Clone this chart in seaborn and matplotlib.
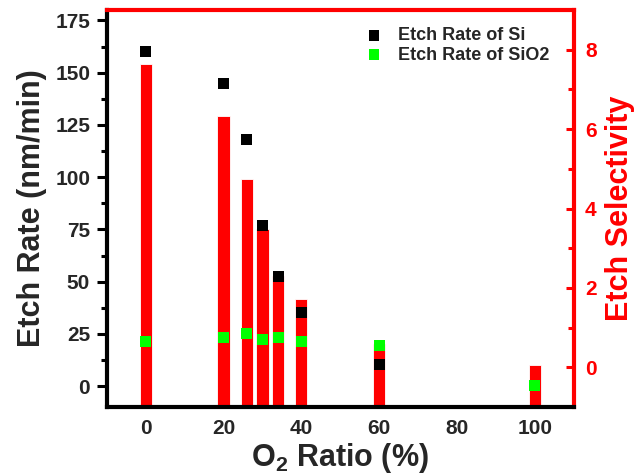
import numpy as np
import pandas as pd
import matplotlib
matplotlib.use("Agg")
import matplotlib.pyplot as plt
import seaborn as sns

# ---- data ----
o2_ratio = [0, 20, 26, 30, 34, 40, 60, 100]
etch_si = [160, 145, 118, 77, 52.4, 35.3, 10.5, 0.3]
etch_sio2 = [21.2, 23.3, 25.4, 22.1, 23.3, 21.2, 19.5, 0.3]
selectivity = [7.65, 6.32, 4.75, 3.49, 2.31, 1.71, 0.58, 0.05]
left_ticks = [0, 25, 50, 75, 100, 125, 150, 175]
right_ticks = [0, 2, 4, 6, 8]
x_ticks = [0, 20, 40, 60, 80, 100]

sns.set_style("white")
plt.rcParams["font.family"] = ["Liberation Sans", "DejaVu Sans"]
plt.rcParams["font.weight"] = "bold"
plt.rcParams["mathtext.fontset"] = "custom"
plt.rcParams["mathtext.rm"] = "Liberation Sans:bold"
plt.rcParams["mathtext.bf"] = "Liberation Sans:bold"
plt.rcParams["mathtext.it"] = "Liberation Sans:bold"

RED = "#ff0000"
GREEN = "#00ff00"

fig = plt.figure(figsize=(6.38, 4.75), dpi=100)
fig.patch.set_facecolor("white")
pos = [106.8 / 638, 68 / 475, 467 / 638, 397 / 475]
ax1 = fig.add_axes(pos)
ax2 = ax1.twinx()
ax3 = ax1.twinx()

xlim = (-10, 110)
ylim1 = (-10, 180)
ylim2 = (-1, 9)

# bars: selectivity on right axis, drawn from the bottom of the axis
df_bar = pd.DataFrame({"o2": o2_ratio, "sel": selectivity})
df_bar["h"] = df_bar["sel"] - ylim2[0]
sns.barplot(data=df_bar, x="o2", y="h", native_scale=True, width=0.78,
            color=RED, errorbar=None, ax=ax2, bottom=ylim2[0],
            linewidth=0.6, saturation=1)

# points: etch rates on left scale
df_pts = pd.DataFrame({"o2": o2_ratio, "si": etch_si, "sio2": etch_sio2})
sns.scatterplot(data=df_pts, x="o2", y="si", marker="s", s=62, color="black",
                edgecolor="none", ax=ax3, label="Etch Rate of Si", zorder=5)
sns.scatterplot(data=df_pts, x="o2", y="sio2", marker="s", s=62, color=GREEN,
                edgecolor="none", ax=ax3, label="Etch Rate of SiO2", zorder=6)

for a in (ax1, ax2, ax3):
    a.set_xlim(*xlim)
ax1.set_ylim(*ylim1)
ax3.set_ylim(*ylim1)
ax2.set_ylim(*ylim2)

# ax1: left axis + x axis
ax1.set_xticks(x_ticks)
ax1.set_xticks([10, 30, 50, 70, 90], minor=True)
ax1.set_yticks(left_ticks)
ax1.set_yticks([12.5, 37.5, 62.5, 87.5, 112.5, 137.5, 162.5], minor=True)
ax1.tick_params(axis="y", which="major", direction="out", length=7, width=2.2,
                labelsize=15, pad=5, color="black")
ax1.tick_params(axis="y", which="minor", direction="out", length=4, width=2.2,
                color="black")
ax1.tick_params(axis="x", which="major", direction="in", length=6, width=2.2,
                labelsize=15, pad=9, color="black")
ax1.tick_params(axis="x", which="minor", direction="in", length=4, width=2.2,
                color="black")
ax1.set_xlabel(r"O$_{\mathbf{2}}$ Ratio (%)", fontsize=22, fontweight="bold",
               labelpad=2)
ax1.set_ylabel("Etch Rate (nm/min)", fontsize=22, fontweight="bold", labelpad=6)
for s in ax1.spines.values():
    s.set_visible(False)

# ax2: right axis (red)
ax2.set_yticks(right_ticks)
ax2.set_yticks([1, 3, 5, 7], minor=True)
ax2.tick_params(axis="y", which="major", direction="in", length=6, width=2.2,
                labelsize=15, pad=8, color=RED, labelcolor=RED)
ax2.tick_params(axis="y", which="minor", direction="in", length=4, width=2.2,
                color=RED)
ax2.set_ylabel("Etch Selectivity", fontsize=22, fontweight="bold", color=RED,
               labelpad=6)
ax2.set_xlabel("")
for side, col in [("left", "black"), ("bottom", "black"), ("top", RED), ("right", RED)]:
    ax2.spines[side].set_visible(True)
    ax2.spines[side].set_color(col)
    ax2.spines[side].set_linewidth(3)

# ax3: only the points
ax3.set_axis_off()
leg = ax3.legend(loc="upper left", bbox_to_anchor=(365 / 638, 1 - 27.5 / 475),
                 bbox_transform=fig.transFigure, frameon=False,
                 prop={"family": "Liberation Sans", "weight": "bold", "size": 13},
                 handlelength=1.0, handletextpad=0.8, borderpad=0,
                 borderaxespad=0, labelspacing=0.12, markerscale=1.0)

fig.savefig("out.png", dpi=100, facecolor="white")
